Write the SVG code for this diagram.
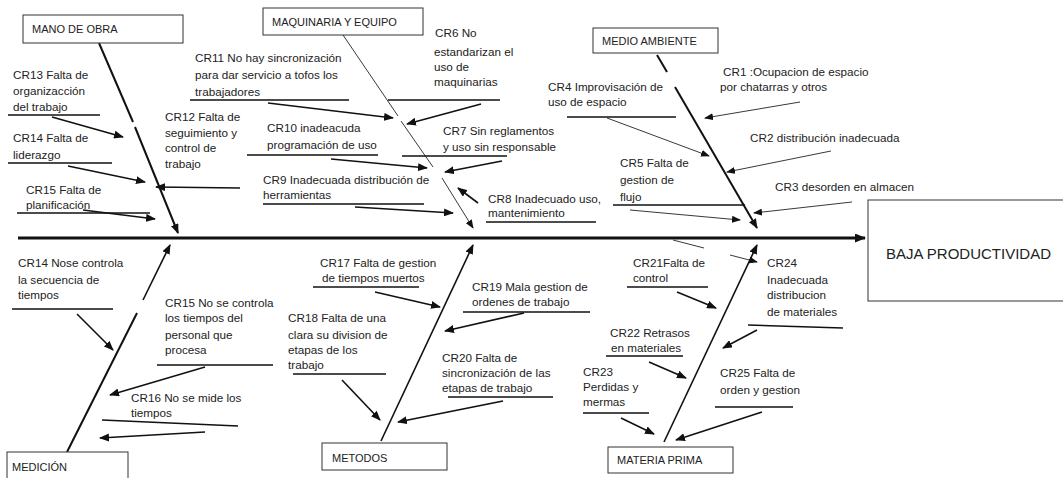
<svg xmlns="http://www.w3.org/2000/svg" width="1063" height="478" viewBox="0 0 1063 478">
<style>
text{font-family:"Liberation Sans",Arial,sans-serif;font-size:11.7px;fill:#222}
.lbl{font-size:11px}
.big{font-size:15px}
.box{fill:#fff;stroke:#333;stroke-width:1}
.ul{stroke:#111;stroke-width:1.6;fill:none}
.a{stroke:#111;stroke-width:1.6;fill:none;marker-end:url(#ah)}
.t{stroke:#222;stroke-width:0.9;fill:none;marker-end:url(#at)}
.tn{stroke:#222;stroke-width:0.9;fill:none}
.bone{stroke:#111;stroke-width:2;fill:none}
</style>
<defs>
<marker id="ah" markerUnits="userSpaceOnUse" markerWidth="10" markerHeight="8" refX="9" refY="4" orient="auto"><path d="M0,0 L10,4 L0,8 z" fill="#111"/></marker>
<marker id="at" markerUnits="userSpaceOnUse" markerWidth="9" markerHeight="7" refX="8" refY="3.5" orient="auto"><path d="M0,0 L9,3.5 L0,7 z" fill="#111"/></marker>
<marker id="ab" markerUnits="userSpaceOnUse" markerWidth="11" markerHeight="9" refX="10" refY="4.5" orient="auto"><path d="M0,0 L11,4.5 L0,9 z" fill="#111"/></marker>
</defs>

<g id="connectors">
<line x1="18" y1="238" x2="865" y2="238" stroke="#111" stroke-width="3" marker-end="url(#ab)"/>
<!-- bones -->
<line class="bone" x1="99" y1="43" x2="133" y2="122"/>
<line class="bone" x1="135" y1="127" x2="178" y2="233" marker-end="url(#ah)"/>
<line class="tn" x1="343" y1="35" x2="398" y2="116"/>
<line class="tn" x1="401" y1="121" x2="433" y2="167"/>
<line class="t" x1="442" y1="178" x2="473" y2="228"/>
<line class="bone" x1="657" y1="55" x2="667" y2="72"/>
<line class="bone" x1="675" y1="87" x2="757" y2="228" marker-end="url(#ah)"/>
<line class="bone" x1="67" y1="452" x2="137" y2="313" stroke-width="1.6"/>
<line class="a" x1="143" y1="300" x2="170" y2="245"/>
<line class="a" x1="381" y1="441" x2="473" y2="245"/>
<line class="a" x1="664" y1="442" x2="757" y2="245"/>
<line class="tn" x1="673" y1="240" x2="704" y2="248"/>
<line class="t" x1="730" y1="255" x2="757" y2="262"/>
<!-- mano de obra -->
<line class="ul" x1="8" y1="115" x2="100" y2="115"/>
<line class="a" x1="52" y1="117" x2="123" y2="137"/>
<line class="ul" x1="8" y1="163" x2="112" y2="163"/>
<line class="a" x1="68" y1="166" x2="145" y2="182"/>
<line class="ul" x1="17" y1="213" x2="150" y2="213"/>
<line class="a" x1="83" y1="210" x2="155" y2="219"/>
<line class="a" x1="240" y1="188" x2="156" y2="187"/>
<!-- maquinaria -->
<line class="ul" x1="190" y1="100" x2="349" y2="100"/>
<line class="a" x1="268" y1="103" x2="393" y2="118"/>
<line class="ul" x1="388" y1="100" x2="500" y2="100"/>
<line class="a" x1="481" y1="104" x2="407" y2="124"/>
<line class="ul" x1="247" y1="155" x2="378" y2="155"/>
<line class="a" x1="331" y1="159" x2="427" y2="168"/>
<line class="ul" x1="402" y1="156" x2="507" y2="156"/>
<line class="a" x1="502" y1="161" x2="445" y2="172"/>
<line class="ul" x1="263" y1="204" x2="424" y2="204"/>
<line class="a" x1="355" y1="207" x2="453" y2="213"/>
<line class="ul" x1="486" y1="222" x2="596" y2="222"/>
<line class="a" x1="478" y1="203" x2="458" y2="188"/>
<!-- medio ambiente -->
<line class="t" x1="800" y1="102" x2="705" y2="118"/>
<line class="ul" x1="567" y1="117" x2="676" y2="117"/>
<line class="t" x1="607" y1="118" x2="709" y2="156"/>
<line class="t" x1="831" y1="151" x2="727" y2="172"/>
<line class="ul" x1="613" y1="205" x2="745" y2="205"/>
<line class="t" x1="630" y1="210" x2="740" y2="220"/>
<line class="t" x1="852" y1="202" x2="754" y2="213"/>
<!-- medicion -->
<line class="ul" x1="12" y1="309" x2="113" y2="309"/>
<line class="a" x1="77" y1="314" x2="113" y2="350"/>
<line class="ul" x1="157" y1="365" x2="273" y2="365"/>
<line class="a" x1="205" y1="367" x2="110" y2="395"/>
<line class="ul" x1="102" y1="420" x2="238" y2="426"/>
<line class="a" x1="205" y1="432" x2="100" y2="438"/>
<!-- metodos -->
<line class="ul" x1="313" y1="287" x2="419" y2="287"/>
<line class="a" x1="375" y1="292" x2="440" y2="307"/>
<line class="ul" x1="463" y1="312" x2="590" y2="312"/>
<line class="a" x1="524" y1="313" x2="445" y2="331"/>
<line class="ul" x1="293" y1="374" x2="386" y2="374"/>
<line class="a" x1="342" y1="380" x2="380" y2="420"/>
<line class="ul" x1="448" y1="397" x2="553" y2="397"/>
<line class="a" x1="503" y1="401" x2="398" y2="422"/>
<!-- materia prima -->
<line class="ul" x1="627" y1="287" x2="708" y2="287"/>
<line class="a" x1="677" y1="292" x2="716" y2="308"/>
<line class="ul" x1="748" y1="325" x2="843" y2="328"/>
<line class="a" x1="757" y1="330" x2="723" y2="348"/>
<line class="ul" x1="606" y1="356" x2="683" y2="356"/>
<line class="a" x1="649" y1="362" x2="686" y2="378"/>
<line class="ul" x1="583" y1="413" x2="649" y2="413"/>
<line class="a" x1="621" y1="418" x2="654" y2="434"/>
<line class="ul" x1="715" y1="407" x2="793" y2="407"/>
<line class="a" x1="762" y1="412" x2="676" y2="440"/>
</g>

<g id="mano-de-obra"><rect class="box" x="23" y="15" width="160" height="28"/><text class="lbl" x="32" y="33">MANO DE OBRA</text></g>
<g id="maquinaria"><rect class="box" x="263" y="8" width="160" height="27"/><text class="lbl" x="272" y="26">MAQUINARIA Y EQUIPO</text></g>
<g id="medio-ambiente"><rect class="box" x="593" y="28" width="125" height="25"/><text class="lbl" x="602" y="45">MEDIO AMBIENTE</text></g>
<g id="baja-productividad"><rect class="box" x="868" y="200" width="200" height="101"/><text class="big" x="886" y="259">BAJA PRODUCTIVIDAD</text></g>
<g id="medicion"><rect class="box" x="7" y="452" width="121" height="30"/><text class="lbl" x="12" y="471">MEDICIÓN</text></g>
<g id="metodos"><rect class="box" x="322" y="443" width="125" height="27"/><text class="lbl" x="332" y="462">METODOS</text></g>
<g id="materia-prima"><rect class="box" x="608" y="447" width="125" height="26"/><text class="lbl" x="617" y="464">MATERIA PRIMA</text></g>

<g id="cr13"><text x="13" y="79">CR13 Falta de</text><text x="13" y="95">organizacción</text><text x="13" y="111">del trabajo</text></g>
<g id="cr14"><text x="13" y="142">CR14 Falta de</text><text x="13" y="159">liderazgo</text></g>
<g id="cr15"><text x="26" y="194">CR15 Falta de</text><text x="26" y="209">planificación</text></g>
<g id="cr12"><text x="165" y="121">CR12 Falta de</text><text x="165" y="137">seguimiento y</text><text x="165" y="152">control de</text><text x="165" y="168">trabajo</text></g>
<g id="cr11"><text x="195" y="62">CR11 No hay sincronización</text><text x="195" y="79">para dar servicio a tofos los</text><text x="195" y="96">trabajadores</text></g>
<g id="cr6"><text x="435" y="37">CR6 No</text><text x="434" y="56">estandarizan el</text><text x="434" y="71">uso de</text><text x="434" y="86">maquinarias</text></g>
<g id="cr10"><text x="267" y="132">CR10 inadeacuda</text><text x="267" y="149">programación de uso</text></g>
<g id="cr7"><text x="443" y="135">CR7 Sin reglamentos</text><text x="443" y="151">y uso sin responsable</text></g>
<g id="cr9"><text x="263" y="184">CR9 Inadecuada distribución de</text><text x="263" y="199">herramientas</text></g>
<g id="cr8"><text x="488" y="203">CR8 Inadecuado uso,</text><text x="488" y="217">mantenimiento</text></g>
<g id="cr1"><text x="723" y="76">CR1 :Ocupacion de espacio</text><text x="720" y="91">por chatarras  y otros</text></g>
<g id="cr4"><text x="548" y="91">CR4 Improvisación de</text><text x="548" y="106">uso de espacio</text></g>
<g id="cr2"><text x="750" y="142">CR2 distribución inadecuada</text></g>
<g id="cr5"><text x="620" y="167">CR5 Falta de</text><text x="620" y="184">gestion de</text><text x="620" y="201">flujo</text></g>
<g id="cr3"><text x="775" y="191">CR3 desorden en almacen</text></g>
<g id="cr14b"><text x="18" y="267">CR14 Nose controla</text><text x="18" y="284">la secuencia de</text><text x="18" y="299">tiempos</text></g>
<g id="cr15b"><text x="165" y="307">CR15 No se controla</text><text x="165" y="322">los tiempos del</text><text x="165" y="339">personal que</text><text x="165" y="354">procesa</text></g>
<g id="cr16"><text x="131" y="402">CR16 No se mide los</text><text x="131" y="417">tiempos</text></g>
<g id="cr17"><text x="320" y="267">CR17 Falta de gestion</text><text x="322" y="282">de tiempos muertos</text></g>
<g id="cr19"><text x="472" y="291">CR19 Mala gestion de</text><text x="472" y="306">ordenes de trabajo</text></g>
<g id="cr18"><text x="288" y="322">CR18 Falta de una</text><text x="288" y="339">clara su division de</text><text x="288" y="354">etapas de  los</text><text x="288" y="369">trabajo</text></g>
<g id="cr20"><text x="442" y="362">CR20 Falta de</text><text x="442" y="377">sincronización de las</text><text x="442" y="392">etapas de trabajo</text></g>
<g id="cr21"><text x="633" y="267">CR21Falta de</text><text x="633" y="282">control</text></g>
<g id="cr24"><text x="767" y="267">CR24</text><text x="767" y="284">Inadecuada</text><text x="767" y="299">distribucion</text><text x="767" y="316">de materiales</text></g>
<g id="cr22"><text x="610" y="337">CR22 Retrasos</text><text x="611" y="352">en materiales</text></g>
<g id="cr23"><text x="583" y="376">CR23</text><text x="583" y="391">Perdidas y</text><text x="583" y="406">mermas</text></g>
<g id="cr25"><text x="720" y="377">CR25 Falta de</text><text x="720" y="394">orden y gestion</text></g>
</svg>
